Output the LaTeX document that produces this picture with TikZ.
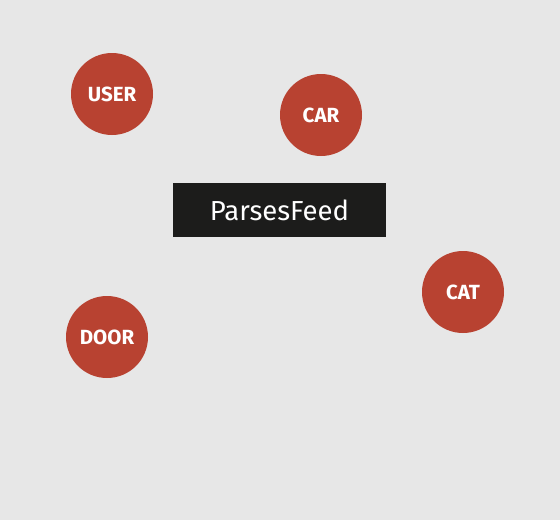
\documentclass[tikz,border=0pt]{standalone}
\usepackage{fontspec}
\setmainfont{Fira Sans}
\definecolor{bg}{HTML}{E7E7E7}
\definecolor{ent}{HTML}{B84231}
\definecolor{rel}{HTML}{1C1C1B}
\begin{document}
\begin{tikzpicture}[x=1pt,y=-1pt,
  entity/.style={circle,fill=ent,minimum size=82pt,inner sep=0pt,text=white,font=\fontsize{20.5}{22}\selectfont\bfseries},
  relbox/.style={rectangle,fill=rel,minimum width=213pt,minimum height=54pt,inner sep=0pt,text=white,font=\fontsize{27.5}{30}\selectfont\addfontfeature{Weight=300}}]
\fill[bg] (0,0) rectangle (560,520);
\useasboundingbox (0,0) rectangle (560,520);
\node[entity] (user) at (112,94) {USER};
\node[entity] (car) at (321,115) {CAR};
\node[entity] (cat) at (463,292) {CAT};
\node[entity] (door) at (107,337) {DOOR};
\node[relbox] (rel) at (279.5,210) {ParsesFeed};
\end{tikzpicture}
\end{document}
